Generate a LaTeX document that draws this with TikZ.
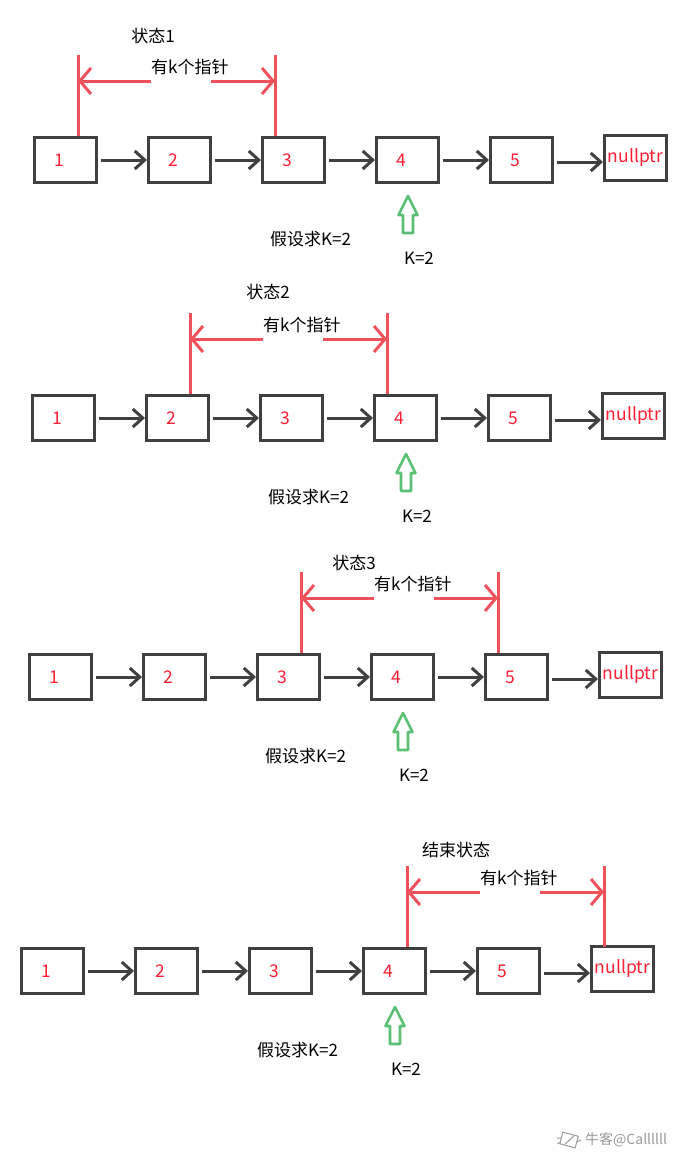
\documentclass[tikz,border=0pt]{standalone}
\usepackage{fontspec}
\setmainfont{Noto Sans CJK SC}
\usetikzlibrary{arrows.meta}
\definecolor{boxc}{HTML}{404040}
\definecolor{redl}{HTML}{F0525C}
\definecolor{redt}{HTML}{FF1F35}
\definecolor{greenl}{HTML}{5BC073}
\definecolor{wmc}{HTML}{9A9A9A}
\tikzset{
  listbox/.style={draw=boxc, line width=3pt, minimum width=62pt, minimum height=45pt,
    inner sep=0pt, text=redt, font=\fontsize{17.5}{20}\selectfont},
  link/.style={draw=boxc, line width=3pt, -{Straight Barb[length=10pt,width=18pt]}, shorten <=3pt},
  bracket/.style={draw=redl, line width=3pt},
  bracketarrow/.style={draw=redl, line width=3pt, -{Straight Barb[length=11pt,width=26pt]}},
  pointer/.style={draw=greenl, line width=2.6pt, line join=round},
  wordc/.style={inner sep=0pt, text=black, font=\fontsize{17}{20}\selectfont},
}
\newcommand{\kstate}[7]{%
  \foreach \i in {1,...,5}{
    \node[listbox] (#1-\i) at ({#2+114*(\i-1)+32.5},{#3+24}) {\kern-6pt\i\kern6pt};
  }
  \node[listbox] (#1-6) at ({#2+570+32.5},{#3+22}) {\raisebox{4pt}{nullptr}};
  \foreach \i [evaluate=\i as \j using int(\i+1)] in {1,...,4}{
    \draw[link] (#1-\i) -- (#1-\j);
  }
  \draw[link] ([yshift=-2pt]#1-5.east) -- ([yshift=-2pt]#1-5.east -| #1-6.west);
  \pgfmathsetmacro{\bl}{#2+114*(#4-1)+45}
  \pgfmathsetmacro{\br}{#2+114*(#4+1)+14}
  \coordinate (#1-lt) at (\bl,{#3-81});
  \coordinate (#1-lb) at (\bl,#3);
  \coordinate (#1-rt) at (\br,{#3-81});
  \coordinate (#1-rb) at (\br,#3);
  \coordinate (#1-lm) at (\bl,{#3-55});
  \coordinate (#1-rm) at (\br,{#3-55});
  \coordinate (#1-g1) at ({\bl+73},{#3-55});
  \coordinate (#1-g2) at ({\bl+133},{#3-55});
  \draw[bracket] (#1-lt) -- (#1-lb);
  \draw[bracket] (#1-rt) -- (#1-rb);
  \draw[bracketarrow] (#1-g1) -- (#1-lm);
  \draw[bracketarrow] (#1-g2) -- (#1-rm);
  \node[wordc, anchor=west] (#1-k) at ({\bl+73},{#3-69}) {有k个指针};
  \node[wordc] (#1-title) at (#6,{#3-#7}) {#5};
  \node[wordc, anchor=west] (#1-a) at ({#2+237},{#3+103}) {假设求K=2};
  \coordinate (#1-gt) at ({#2+375},{#3+60});
  \draw[pointer] (#1-gt) -- ++(9.5,19) -- ++(-4.5,0) -- ++(0,18) -- ++(-10,0)
     -- ++(0,-18) -- ++(-4.5,0) -- cycle;
  \node[wordc] (#1-K) at ({#2+386},{#3+122}) {K=2};
}
\begin{document}
\begin{tikzpicture}[x=1pt,y=-1pt]
  \useasboundingbox (0,0) rectangle (681,1157);
  \fill[white] (0,0) rectangle (681,1157);
  \kstate{s1}{33}{136}{1}{状态1}{153}{100}
  \kstate{s2}{31}{394}{2}{状态2}{268}{102}
  \kstate{s3}{28}{653}{3}{状态3}{354}{90}
  \kstate{s4}{20}{947}{4}{结束状态}{456}{97}
  % watermark
  \node[inner sep=0pt, anchor=west, text=wmc, font=\fontsize{14}{16}\selectfont] (wm) at (585,1140) {牛客@Callllll};
  \coordinate (ic) at (569,1140);
  \draw[wmc, line width=1pt, rotate around={-15:(ic)}] ([shift={(-8,-6)}]ic) rectangle ([shift={(8,6)}]ic);
  \draw[wmc, line width=1pt] ([shift={(-12,-2)}]ic) -- ([shift={(-8,-2)}]ic)
     ([shift={(-12,3)}]ic) -- ([shift={(-8,3)}]ic)
     ([shift={(-4,4)}]ic) -- ([shift={(5,-4)}]ic)
     ([shift={(8,2)}]ic) -- ([shift={(12,0)}]ic);
\end{tikzpicture}
\end{document}
